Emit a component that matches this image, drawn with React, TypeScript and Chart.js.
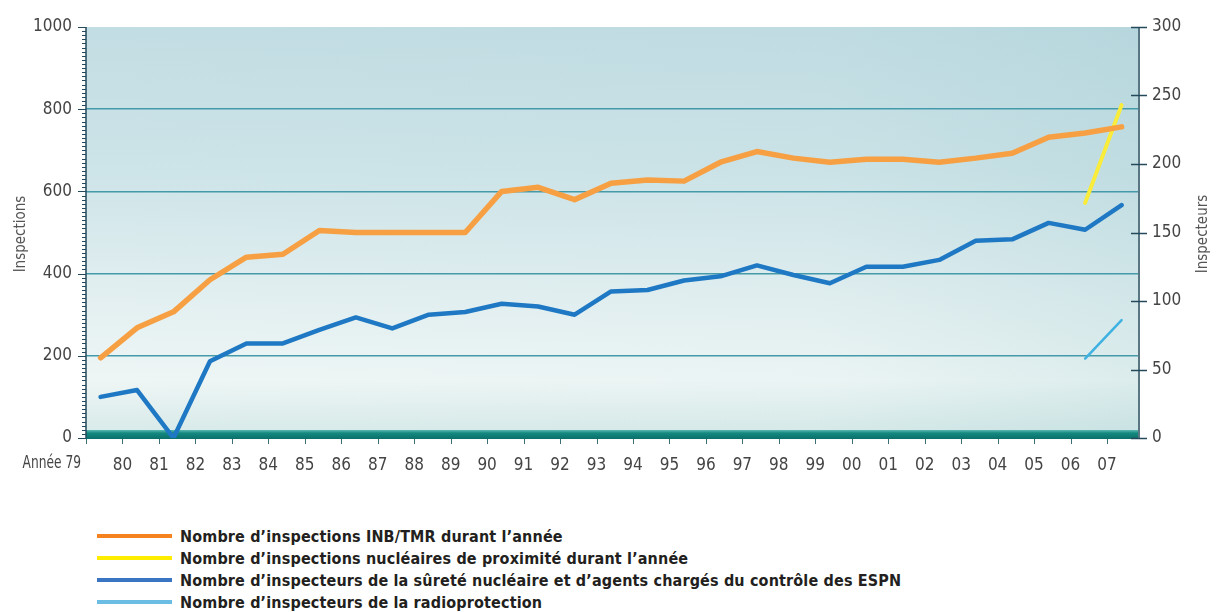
import React, { useEffect, useRef } from 'react';
import { Chart, registerables } from 'chart.js';

Chart.register(...registerables);

// ---- Data ----
const years = [
  1979, 1980, 1981, 1982, 1983, 1984, 1985, 1986, 1987, 1988,
  1989, 1990, 1991, 1992, 1993, 1994, 1995, 1996, 1997, 1998,
  1999, 2000, 2001, 2002, 2003, 2004, 2005, 2006, 2007,
];

// Nombre d'inspections INB/TMR durant l'année (left axis)
const inspectionsINB = [
  195, 268, 307, 385, 440, 447, 505, 500, 500, 500,
  500, 600, 610, 580, 620, 628, 625, 671, 697, 681,
  671, 678, 678, 671, 681, 693, 732, 742, 757,
];

// Nombre d'inspections nucléaires de proximité durant l'année (left axis)
const inspectionsProximite = [
  null, null, null, null, null, null, null, null, null, null,
  null, null, null, null, null, null, null, null, null, null,
  null, null, null, null, null, null, null, 572, 810,
];

// Nombre d'inspecteurs de la sûreté nucléaire ... (right axis)
const inspecteursSurete = [
  30, 35, 0, 56, 69, 69, 79, 88, 80, 90,
  92, 98, 96, 90, 107, 108, 115, 118, 126, 119,
  113, 125, 125, 130, 144, 145, 157, 152, 170,
];

// Nombre d'inspecteurs de la radioprotection (right axis)
const inspecteursRadio = [
  null, null, null, null, null, null, null, null, null, null,
  null, null, null, null, null, null, null, null, null, null,
  null, null, null, null, null, null, null, 58, 86,
];

const legendLabels = [
  'Nombre d’inspections INB/TMR durant l’année',
  'Nombre d’inspections nucléaires de proximité durant l’année',
  'Nombre d’inspecteurs de la sûreté nucléaire et d’agents chargés du contrôle des ESPN',
  'Nombre d’inspecteurs de la radioprotection',
];
const legendColors = ['#f5821f', '#ffed00', '#3a75c4', '#6bbde3'];

const leftTitle = 'Inspections';
const rightTitle = 'Inspecteurs';
const firstYearLabel = 'Année 79';

const X_SHIFT = 0.4; // points sit inside each year
const COND = "'Liberation Sans Narrow', 'DejaVu Sans Condensed', 'Arial Narrow', sans-serif";

const toPoints = (vals: (number | null)[]) =>
  years.map((y, i) => ({ x: y + X_SHIFT, y: vals[i] }));

const decor = {
  id: 'decor',
  beforeDraw(chart: any) {
    const { ctx, chartArea: a } = chart;
    ctx.save();
    const g = ctx.createLinearGradient(0, a.top, 0, a.bottom);
    g.addColorStop(0, '#c2dde3');
    g.addColorStop(0.35, '#cde4e8');
    g.addColorStop(0.68, '#e4f0f1');
    g.addColorStop(0.86, '#eef6f5');
    g.addColorStop(1, '#d5e9e8');
    ctx.fillStyle = g;
    ctx.fillRect(a.left, a.top, a.right - a.left, a.bottom - a.top);
    const h = ctx.createLinearGradient(a.left, 0, a.right, 0);
    h.addColorStop(0, 'rgba(120,180,190,0)');
    h.addColorStop(0.7, 'rgba(120,180,190,0.03)');
    h.addColorStop(1, 'rgba(110,175,185,0.14)');
    ctx.fillStyle = h;
    ctx.fillRect(a.left, a.top, a.right - a.left, a.bottom - a.top);
    ctx.restore();
  },
  beforeDatasetsDraw(chart: any) {
    const { ctx, chartArea: a } = chart;
    ctx.save();
    const g = ctx.createLinearGradient(0, a.bottom - 8, 0, a.bottom + 1);
    g.addColorStop(0, '#5cb8b2');
    g.addColorStop(0.35, '#13897f');
    g.addColorStop(1, '#0c6f6a');
    ctx.fillStyle = g;
    ctx.fillRect(a.left, a.bottom - 8, a.right - a.left, 9);
    ctx.restore();
  },
  afterDraw(chart: any) {
    const { ctx, chartArea: a, scales } = chart;
    const yl = scales.y;
    const yr = scales.y1;
    const x = scales.x;
    ctx.save();
    // left axis line and ruler ticks
    ctx.strokeStyle = '#24495a';
    ctx.lineWidth = 1.5;
    ctx.beginPath();
    ctx.moveTo(a.left, a.top);
    ctx.lineTo(a.left, a.bottom);
    ctx.stroke();
    ctx.lineWidth = 1;
    for (let v = 0; v <= 1000; v += 10) {
      const py = Math.round(yl.getPixelForValue(v)) + 0.5;
      const len = v % 200 === 0 ? 8 : 4;
      ctx.beginPath();
      ctx.moveTo(a.left - len, py);
      ctx.lineTo(a.left, py);
      ctx.stroke();
    }
    // right axis line and ticks
    const rx = a.right + 1;
    ctx.lineWidth = 1.5;
    ctx.beginPath();
    ctx.moveTo(rx, a.top);
    ctx.lineTo(rx, a.bottom);
    ctx.stroke();
    for (let v = 0; v <= 300; v += 50) {
      const py = Math.round(yr.getPixelForValue(v)) + 0.5;
      ctx.beginPath();
      ctx.moveTo(rx - 8, py);
      ctx.lineTo(rx + 8, py);
      ctx.stroke();
    }
    // x ticks
    ctx.lineWidth = 1;
    ctx.strokeStyle = '#3d6f78';
    for (const yr0 of years) {
      const px = Math.round(x.getPixelForValue(yr0)) + 0.5;
      ctx.beginPath();
      ctx.moveTo(px, a.bottom + 1);
      ctx.lineTo(px, a.bottom + 6);
      ctx.stroke();
    }
    // "Année 79" (condensed)
    ctx.fillStyle = '#444';
    ctx.font = `17px ${COND}`;
    ctx.textAlign = 'right';
    ctx.textBaseline = 'middle';
    ctx.translate(a.left - 5, a.bottom + 26);
    ctx.scale(0.8, 1);
    ctx.fillText(firstYearLabel, 0, 0);
    ctx.setTransform(1, 0, 0, 1, 0, 0);
    // axis titles
    ctx.font = `15px ${COND}`;
    ctx.fillStyle = '#555';
    ctx.textAlign = 'center';
    ctx.textBaseline = 'middle';
    ctx.translate(21, 234);
    ctx.rotate(-Math.PI / 2);
    ctx.fillText(leftTitle, 0, 0);
    ctx.setTransform(1, 0, 0, 1, 0, 0);
    ctx.translate(1203, 234);
    ctx.rotate(-Math.PI / 2);
    ctx.fillText(rightTitle, 0, 0);
    ctx.restore();
  },
};

export default function App() {
  const ref = useRef<HTMLCanvasElement | null>(null);

  useEffect(() => {
    if (!ref.current) return;
    const chart = new Chart(ref.current, {
      type: 'line',
      data: {
        datasets: [
          {
            label: legendLabels[0],
            data: toPoints(inspectionsINB),
            borderColor: '#f7a043',
            borderWidth: 5.5,
            yAxisID: 'y',
          },
          {
            label: legendLabels[1],
            data: toPoints(inspectionsProximite),
            borderColor: '#f9ec3a',
            borderWidth: 4,
            yAxisID: 'y',
          },
          {
            label: legendLabels[2],
            data: toPoints(inspecteursSurete),
            borderColor: '#1e78c3',
            borderWidth: 4.5,
            yAxisID: 'y1',
          },
          {
            label: legendLabels[3],
            data: toPoints(inspecteursRadio),
            borderColor: '#3fb2e2',
            borderWidth: 2.5,
            yAxisID: 'y1',
          },
        ] as any,
      },
      options: {
        animation: false,
        responsive: true,
        maintainAspectRatio: false,
        layout: { padding: { left: 0, right: 0, top: 27, bottom: 0 } },
        elements: {
          point: { radius: 0, hoverRadius: 0 },
          line: { tension: 0, borderJoinStyle: 'round', borderCapStyle: 'round' },
        },
        plugins: { legend: { display: false }, tooltip: { enabled: false } },
        scales: {
          x: {
            type: 'linear',
            min: 1979,
            max: 2007.85,
            afterFit: (s: any) => { s.height = 52; },
            border: { display: false },
            grid: { display: false, drawTicks: false },
            ticks: {
              stepSize: 1,
              includeBounds: false,
              autoSkip: false,
              maxRotation: 0,
              padding: 17,
              color: '#444',
              font: { family: COND, size: 17 },
              callback: (v: any) => (v === years[0] ? '' : String(v % 100).padStart(2, '0')),
            },
          },
          y: {
            position: 'left',
            min: 0,
            max: 1000,
            afterFit: (s: any) => { s.width = 86; },
            border: { display: false },
            grid: {
              drawTicks: false,
              lineWidth: 1.5,
              color: (c: any) => (c.tick && (c.tick.value === 0 || c.tick.value === 1000) ? 'rgba(0,0,0,0)' : '#449aa9'),
            },
            ticks: {
              stepSize: 200,
              padding: 14,
              color: '#444',
              font: { family: COND, size: 17 },
              callback: (v: any) => String(v),
            },
          },
          y1: {
            position: 'right',
            min: 0,
            max: 300,
            afterFit: (s: any) => { s.width = 78; },
            border: { display: false },
            grid: { drawOnChartArea: false, drawTicks: false },
            ticks: {
              stepSize: 50,
              padding: 14,
              color: '#444',
              font: { family: COND, size: 17 },
              callback: (v: any) => String(v),
            },
          },
        },
      } as any,
      plugins: [decor],
    });
    return () => chart.destroy();
  }, []);

  return (
    <div style={{ position: 'absolute', left: 0, top: 0, width: 1216, height: 612, background: '#fff' }}>
      <div style={{ position: 'absolute', left: 0, top: 0, width: 1216, height: 490 }}>
        <canvas ref={ref} />
      </div>
      <div style={{ position: 'absolute', left: 97, top: 525 }}>
        {legendLabels.map((t, i) => (
          <div key={i} style={{ display: 'flex', alignItems: 'center', height: 22 }}>
            <span style={{ display: 'inline-block', width: 75, height: 4, background: legendColors[i] }} />
            <span
              style={{
                marginLeft: 8,
                fontFamily: "'DejaVu Sans Condensed', 'DejaVu Sans', sans-serif",
                fontWeight: 'bold',
                fontSize: 16,
                letterSpacing: 0.15,
                color: '#231f20',
                whiteSpace: 'nowrap',
              }}
            >
              {t}
            </span>
          </div>
        ))}
      </div>
    </div>
  );
}
